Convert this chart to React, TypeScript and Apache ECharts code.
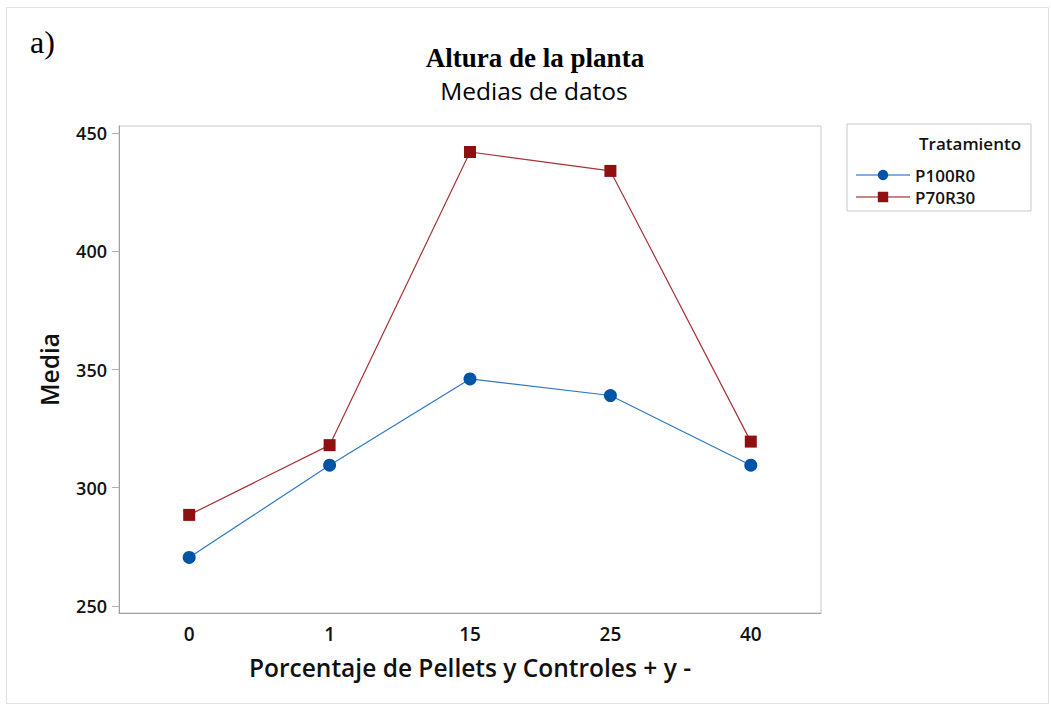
import React, { useEffect, useRef } from "react";
import * as echarts from "echarts";

const categories = ["0", "1", "15", "25", "40"];
const p100r0 = [270.5, 309.5, 346, 339, 309.5];
const p70r30 = [288.5, 318, 442, 434, 319.5];
const yTicks = [250, 300, 350, 400, 450];

const SANS = "'Open Sans', 'Noto Sans', sans-serif";

export default function App() {
  const ref = useRef<HTMLDivElement>(null);
  useEffect(() => {
    const chart = echarts.init(ref.current!, undefined, { renderer: "svg" });
    chart.setOption({
      animation: false,
      backgroundColor: "#ffffff",
      grid: {
        left: 119,
        top: 126,
        width: 702,
        height: 487,
        show: true,
        borderColor: "#c8c8c8",
        borderWidth: 1,
      },
      xAxis: {
        type: "category",
        data: categories,
        boundaryGap: true,
        axisLine: { lineStyle: { color: "#a0a0a0", width: 1 } },
        axisTick: { alignWithLabel: true, length: 7, lineStyle: { color: "#b0b0b0" } },
        axisLabel: { color: "#111", fontFamily: SANS, fontSize: 19, fontWeight: 600, margin: 11 },
        name: "Porcentaje de Pellets y Controles + y -",
        nameLocation: "middle",
        nameGap: 42,
        nameTextStyle: { color: "#111", fontFamily: SANS, fontSize: 24.5, fontWeight: 600 },
      },
      yAxis: {
        type: "value",
        min: 247,
        max: 453,
        splitLine: { show: false },
        axisLine: { show: true, lineStyle: { color: "#a0a0a0", width: 1 } },
        axisTick: { show: true, length: 7, customValues: yTicks, lineStyle: { color: "#b0b0b0" } },
        axisLabel: {
          customValues: yTicks,
          color: "#111",
          fontFamily: SANS,
          fontSize: 18,
          fontWeight: 600,
          margin: 12,
        },
        name: "Media",
        nameLocation: "middle",
        nameGap: 57,
        nameTextStyle: { color: "#111", fontFamily: SANS, fontSize: 24.5, fontWeight: 600 },
      },
      legend: {
        orient: "vertical",
        left: 850,
        top: 160,
        itemWidth: 54,
        itemHeight: 13,
        itemGap: 2,
        textStyle: { color: "#111", fontFamily: SANS, fontSize: 17, fontWeight: 600, lineHeight: 20 },
        lineStyle: { opacity: 0.6 },
        data: ["P100R0", "P70R30"],
      },
      series: [
        {
          name: "P100R0",
          type: "line",
          data: p100r0,
          symbol: "circle",
          symbolSize: 13,
          itemStyle: { color: "#0054a6" },
          lineStyle: { color: "#2f78c4", width: 1.2 },
        },
        {
          name: "P70R30",
          type: "line",
          data: p70r30,
          symbol: "rect",
          symbolSize: 12,
          itemStyle: { color: "#8e1010" },
          lineStyle: { color: "#a83236", width: 1.2 },
        },
      ],
      graphic: [
        {
          type: "rect",
          left: 4,
          top: 5,
          shape: { x: 0, y: 0, width: 1042, height: 696 },
          style: { fill: "none", stroke: "#e0e0e0", lineWidth: 1 },
          z: -1,
        },
        {
          type: "text",
          x: 30,
          y: 42,
          style: {
            text: "a)",
            font: "32px 'Liberation Serif', 'Times New Roman', serif",
            fill: "#000",
            textVerticalAlign: "middle",
          },
        },
        {
          type: "text",
          x: 535,
          y: 58,
          style: {
            text: "Altura de la planta",
            font: "bold 27px 'Liberation Serif', 'Times New Roman', serif",
            fill: "#000",
            textAlign: "center",
            textVerticalAlign: "middle",
          },
        },
        {
          type: "text",
          x: 534,
          y: 90,
          style: {
            text: "Medias de datos",
            font: "24.5px " + SANS,
            fill: "#000",
            textAlign: "center",
            textVerticalAlign: "middle",
          },
        },
        {
          type: "rect",
          shape: { x: 847, y: 124, width: 184, height: 87 },
          style: { fill: "none", stroke: "#c8c8c8", lineWidth: 1 },
        },
        {
          type: "text",
          x: 919,
          y: 143,
          style: {
            text: "Tratamiento",
            font: "600 17px " + SANS,
            fill: "#111",
            textVerticalAlign: "middle",
          },
        },
      ],
    });
    return () => chart.dispose();
  }, []);
  return (
    <div
      ref={ref}
      style={{ position: "fixed", left: 0, top: 0, width: 1051, height: 706 }}
    />
  );
}
